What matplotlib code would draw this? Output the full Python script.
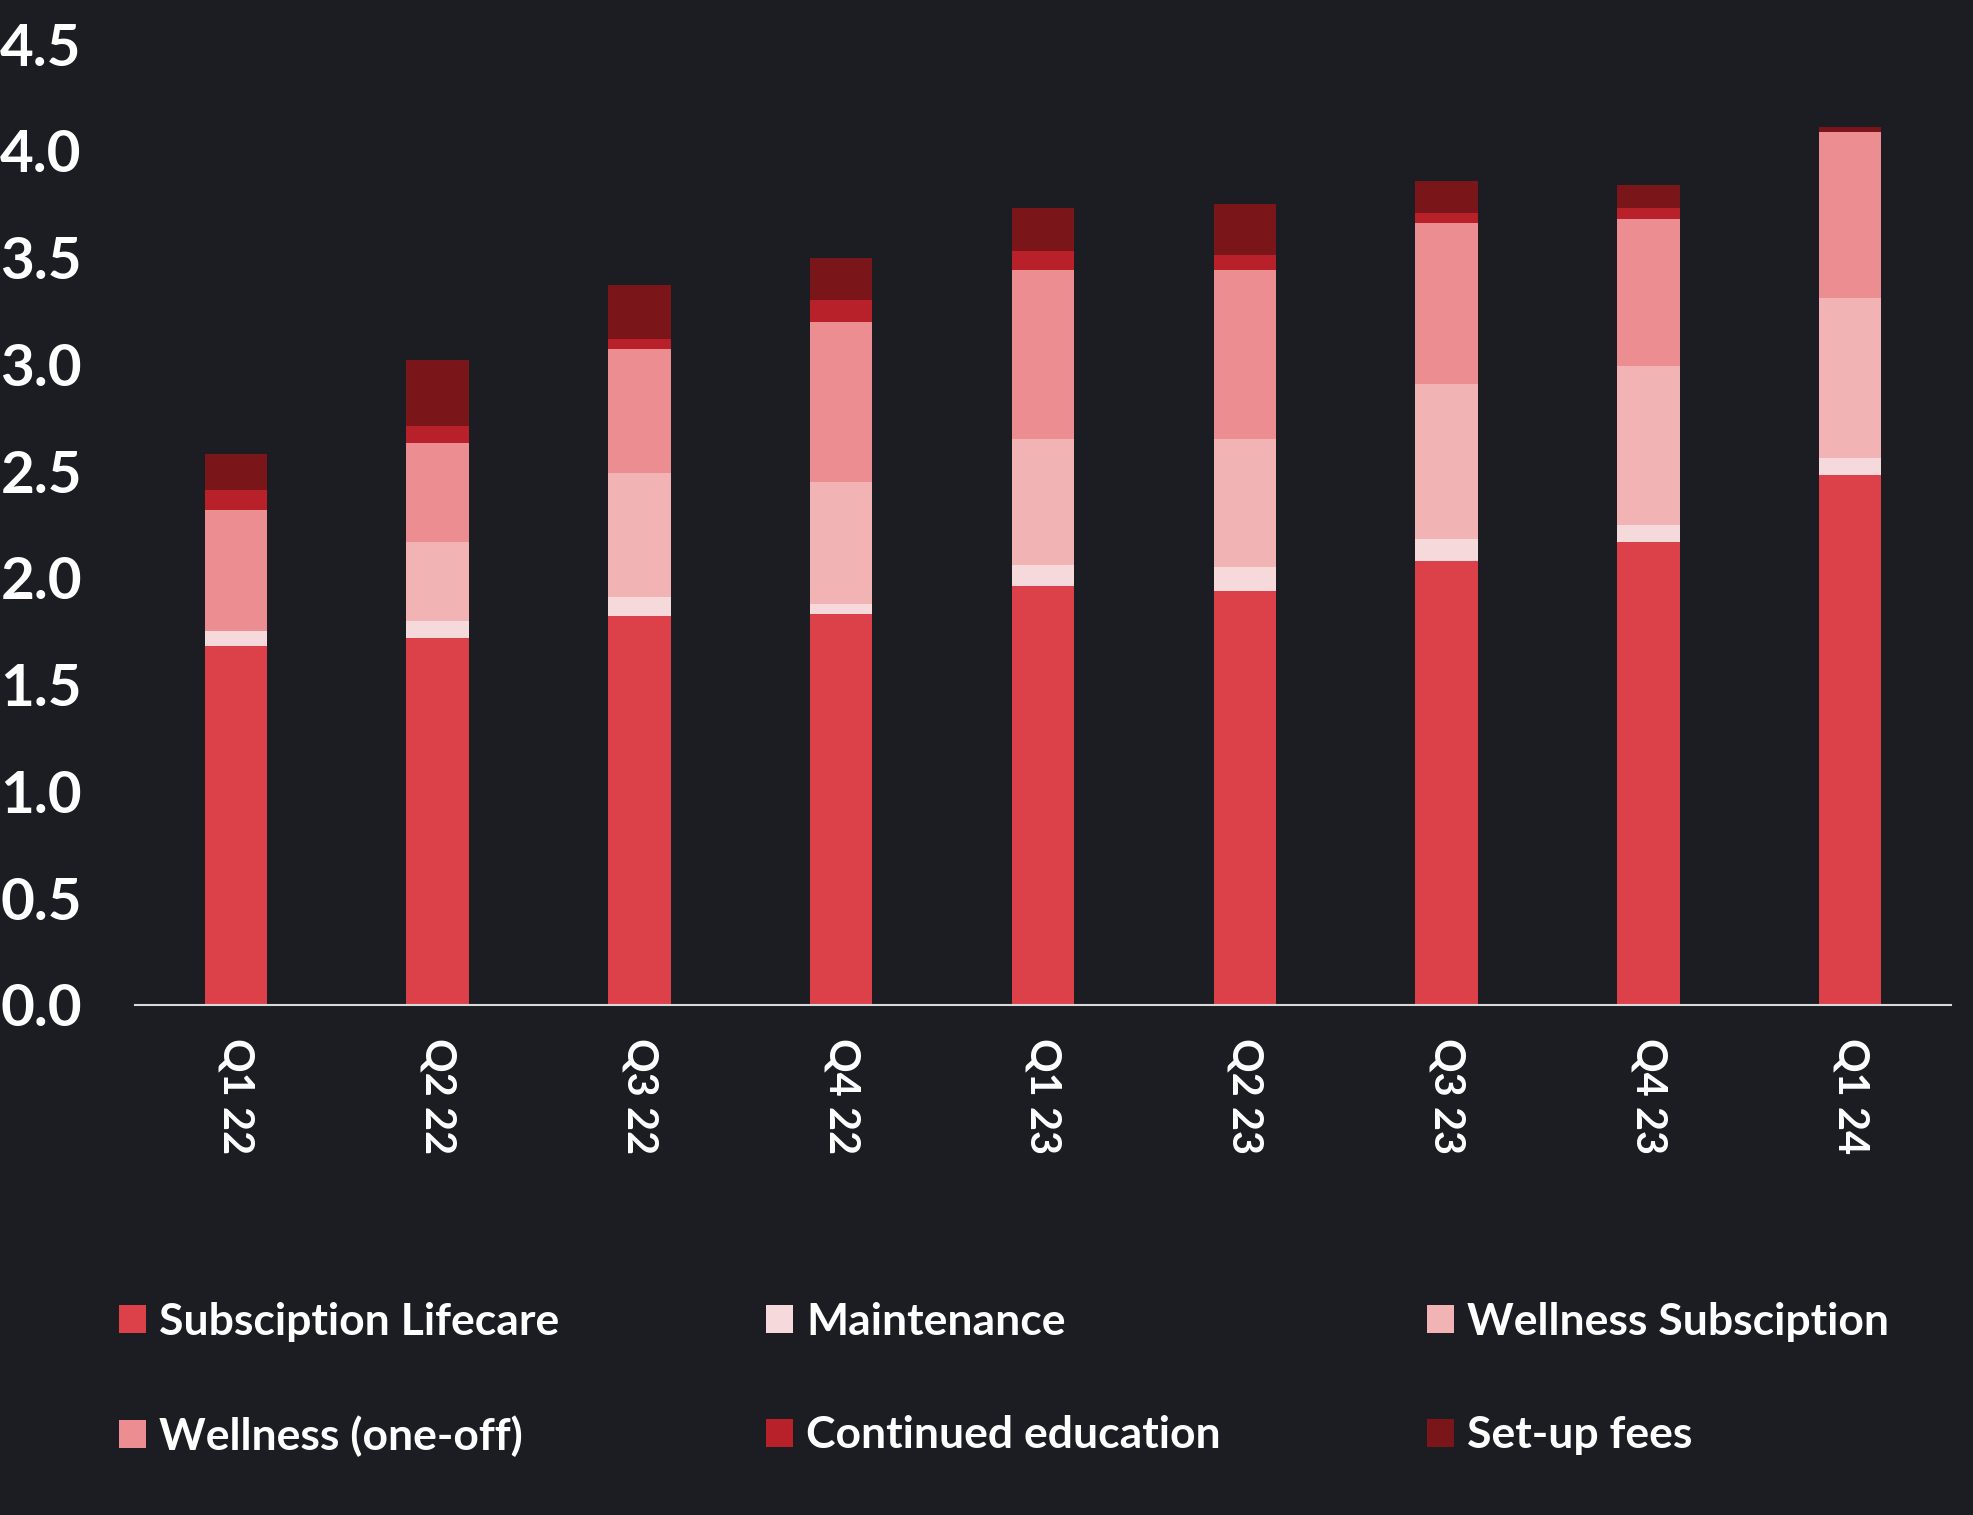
import numpy as np
import matplotlib
matplotlib.use("Agg")
import matplotlib.pyplot as plt
from matplotlib.patches import Patch

# quarterly revenue split
quarters = ["Q1 22", "Q2 22", "Q3 22", "Q4 22", "Q1 23", "Q2 23", "Q3 23", "Q4 23", "Q1 24"]
subscription_lifecare = [1.68, 1.72, 1.82, 1.83, 1.96, 1.94, 2.08, 2.17, 2.48]
maintenance = [0.07, 0.08, 0.09, 0.05, 0.10, 0.11, 0.10, 0.08, 0.08]
wellness_subscription = [0.00, 0.37, 0.58, 0.57, 0.59, 0.60, 0.73, 0.74, 0.75]
wellness_oneoff = [0.57, 0.46, 0.58, 0.75, 0.79, 0.79, 0.75, 0.69, 0.78]
continued_education = [0.09, 0.08, 0.05, 0.10, 0.09, 0.07, 0.05, 0.05, 0.00]
setup_fees = [0.17, 0.31, 0.25, 0.20, 0.20, 0.24, 0.15, 0.11, 0.02]

series = [
    ("Subsciption Lifecare", subscription_lifecare, "#DC414A"),
    ("Maintenance", maintenance, "#F6DADB"),
    ("Wellness Subsciption", wellness_subscription, "#F2B3B4"),
    ("Wellness (one-off)", wellness_oneoff, "#EB8D91"),
    ("Continued education", continued_education, "#B8212A"),
    ("Set-up fees", setup_fees, "#7A151A"),
]

BG = "#1C1D22"
plt.rcParams['font.family'] = ['Lato', 'DejaVu Sans']
plt.rcParams['font.weight'] = 'bold'

W, H = 1974, 1515
fig = plt.figure(figsize=(W / 100, H / 100), dpi=100, facecolor=BG)
ax = fig.add_axes([135 / W, 1 - 1005 / H, (1951 - 135) / W, (1005 - 44) / H])
ax.set_facecolor(BG)

x = np.arange(len(quarters))
bottom = np.zeros(len(quarters))
handles = {}
for name, vals, col in series:
    ax.bar(x, vals, width=0.31, bottom=bottom, color=col, linewidth=0)
    bottom += np.array(vals)
    handles[name] = Patch(facecolor=col, edgecolor='none', label=name)

ax.set_xlim(-0.5, len(quarters) - 0.5)
ax.set_ylim(0, 4.5)
ax.set_yticks(np.arange(0, 4.51, 0.5))
ax.set_yticklabels([f"{v:.1f}" for v in np.arange(0, 4.51, 0.5)])
ax.set_xticks(x)
ax.set_xticklabels(quarters, rotation=270)

for s in ['top', 'right', 'left']:
    ax.spines[s].set_visible(False)
ax.spines['bottom'].set_color('#D9D9D9')
ax.spines['bottom'].set_linewidth(1.5)

ax.tick_params(axis='y', length=0, pad=97, labelsize=42, labelcolor='white')
ax.tick_params(axis='x', length=0, pad=24, labelsize=30, labelcolor='white')
for lbl in ax.get_yticklabels():
    lbl.set_horizontalalignment('left')
    lbl.set_fontweight('bold')
for lbl in ax.get_xticklabels():
    lbl.set_fontweight('bold')

# legend: 2 rows x 3 columns, filled column-wise
order = ["Subsciption Lifecare", "Wellness (one-off)", "Maintenance",
         "Continued education", "Wellness Subsciption", "Set-up fees"]
leg = fig.legend([handles[n] for n in order], order, ncol=3,
                 loc='upper left',
                 bbox_to_anchor=(119 / W, 1 - 1302 / H),
                 frameon=False, fontsize=32, handlelength=0.6, handleheight=0.6,
                 handletextpad=0.3, labelspacing=1.65, columnspacing=4.65,
                 borderpad=0, borderaxespad=0)
for t in leg.get_texts():
    t.set_color('white')
    t.set_fontweight('bold')

fig.savefig("out.png", dpi=100, facecolor=BG)
